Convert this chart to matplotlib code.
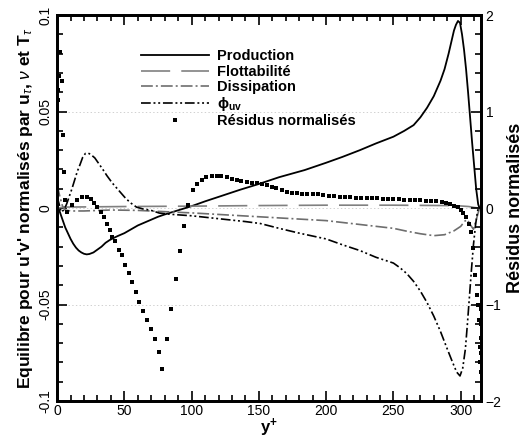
import numpy as np
import matplotlib
matplotlib.use('Agg')
import matplotlib.pyplot as plt
from matplotlib.ticker import MultipleLocator

plt.rcParams['font.family'] = ['Liberation Sans', 'DejaVu Sans']
plt.rcParams['mathtext.fontset'] = 'custom'
plt.rcParams['mathtext.rm'] = 'Liberation Sans'
plt.rcParams['mathtext.it'] = 'Liberation Sans:italic'
plt.rcParams['mathtext.bf'] = 'Liberation Sans:bold'
plt.rcParams['lines.scale_dashes'] = False

# Production
prod_x = [0, 1.5, 3, 4.5, 6, 8, 10, 12, 14, 16, 18, 20, 22, 24, 27, 30, 33, 36, 39,
          42, 45, 50, 55, 60, 65, 70, 75, 80, 86, 93, 100, 110, 120, 136, 150, 165,
          184, 200, 212, 225, 237, 250, 258, 265, 270, 275, 280, 285, 288, 291, 293,
          295, 296.5, 298, 299.5, 301, 302.5, 304, 305.5, 307, 308.5, 310, 311.5,
          313, 314]
prod_y = [0.001, -0.001, -0.004, -0.007, -0.010, -0.013, -0.016, -0.0185, -0.0205,
          -0.022, -0.023, -0.0237, -0.024, -0.0238, -0.023, -0.0215, -0.020, -0.018,
          -0.0166, -0.0155, -0.0145, -0.013, -0.011, -0.009, -0.0075, -0.006,
          -0.0045, -0.0033, -0.002, -0.0005, 0.001, 0.0035, 0.0058, 0.0095, 0.0125,
          0.016, 0.0197, 0.0235, 0.0265, 0.030, 0.0335, 0.037, 0.040, 0.043, 0.047,
          0.052, 0.058, 0.066, 0.072, 0.080, 0.086, 0.092, 0.095, 0.097, 0.096,
          0.090, 0.082, 0.072, 0.060, 0.047, 0.034, 0.022, 0.010, 0.002, 0.0]

# Flottabilite
flot_x = [0, 5, 20, 50, 100, 150, 200, 250, 290, 300, 306, 310, 313.5]
flot_y = [0.0, 0.0005, 0.0006, 0.0008, 0.001, 0.0013, 0.0015, 0.0015, 0.0013,
          0.0011, 0.0008, 0.0003, 0.0]

# Dissipation
diss_x = [0, 2, 4, 6, 10, 20, 40, 60, 84, 100, 150, 200, 250, 260, 270, 280, 288,
          295, 300, 303, 305, 307, 309.5, 312, 314]
diss_y = [0.012, 0.006, 0.001, -0.001, -0.0015, -0.0015, -0.001, -0.0012, -0.002,
          -0.0025, -0.0045, -0.0065, -0.0105, -0.012, -0.0133, -0.0143, -0.0138,
          -0.0118, -0.0095, -0.0068, -0.006, -0.0085, -0.011, -0.005, 0.0]

# phi_uv
phi_x = [0, 1.5, 3, 5, 7, 9, 11, 13, 15, 17, 19, 21, 23, 25, 28, 31, 34, 37, 41, 46,
         51, 55, 59, 64, 69, 76, 84, 100, 120, 140, 151, 165, 180, 200, 212, 225,
         237, 250, 255, 260, 265, 270, 275, 280, 285, 290, 294, 297, 299.5, 301.5,
         303.5, 305, 306.5, 308, 309.5, 311, 312, 313]
phi_y = [0.006, 0.002, -0.002, -0.001, 0.002, 0.006, 0.010, 0.0145, 0.019, 0.0225,
         0.0263, 0.0283, 0.0285, 0.0278, 0.026, 0.023, 0.020, 0.0168, 0.013, 0.009,
         0.005, 0.0025, 0.0005, -0.0005, -0.001, -0.0026, -0.0032, -0.004, -0.0055,
         -0.007, -0.008, -0.0105, -0.013, -0.016, -0.019, -0.022, -0.0255, -0.0285,
         -0.031, -0.034, -0.038, -0.043, -0.049, -0.056, -0.064, -0.073, -0.080,
         -0.085, -0.087, -0.083, -0.073, -0.060, -0.046, -0.032, -0.019, -0.009,
         -0.004, 0.0]

# Residus normalises (right axis)
res_x = [0.2, 0.5, 1, 1.5, 2.2, 3.5, 4, 5.2, 6, 7.7, 11, 15, 18.7, 22.4, 25, 27.6,
         30, 32.8, 35, 37, 39, 41, 43, 46, 48.5, 50.7, 53.7, 56, 58.8, 61, 64, 67,
         70, 73, 76, 78, 82, 85, 88, 91, 94, 97, 100.7, 103.7, 107.5, 111, 115,
         118.6, 122, 126, 130, 133.6, 137, 141, 145, 148.5, 152, 156, 160, 163,
         167, 171, 174.6, 178, 182, 186, 190, 194, 198, 202, 206, 210, 214, 218,
         222, 226, 230, 234, 238, 242, 246, 250, 254, 258, 262, 266, 270, 274,
         278, 282, 286, 289, 292, 295, 298, 300, 302, 304, 306, 307.5, 309, 310.4,
         312, 312.7, 313.5, 314, 314.5, 315, 315, 315, 315, 315]
res_y = [1.02, 1.12, 1.22, 1.37, 1.62, 1.32, 0.76, 0.37, 0.08, -0.04, 0.03, 0.08,
         0.11, 0.11, 0.09, 0.05, 0.01, -0.04, -0.09, -0.16, -0.23, -0.3, -0.34,
         -0.43, -0.49, -0.59, -0.67, -0.77, -0.87, -0.97, -1.07, -1.16, -1.25,
         -1.36, -1.49, -1.67, -1.36, -1.05, -0.74, -0.45, -0.19, 0.03, 0.19, 0.25,
         0.29, 0.32, 0.33, 0.33, 0.33, 0.32, 0.30, 0.29, 0.28, 0.27, 0.26, 0.26,
         0.25, 0.24, 0.22, 0.21, 0.19, 0.17, 0.16, 0.155, 0.15, 0.15, 0.15, 0.145,
         0.14, 0.13, 0.12, 0.115, 0.11, 0.11, 0.105, 0.105, 0.10, 0.10, 0.10,
         0.095, 0.095, 0.09, 0.09, 0.085, 0.085, 0.08, 0.08, 0.075, 0.075, 0.07,
         0.065, 0.055, 0.04, 0.025, 0.01, -0.02, -0.05, -0.09, -0.16, -0.25, -0.41,
         -0.69, -0.9, -1.0, -1.16, -1.44, -1.6, -1.05, -1.2, -1.35, -1.5, -1.7]

fig = plt.figure(figsize=(5.29, 4.40), dpi=100)
ax = fig.add_axes([0.108, 0.0886, 0.801, 0.877])
ax2 = ax.twinx()

ax.plot(prod_x, prod_y, color='black', lw=1.3, label='Production')
ax.plot(flot_x, flot_y, color='#808080', lw=1.2, dashes=(21, 8), label='Flottabilité')
ax.plot(diss_x, diss_y, color='#6e6e6e', lw=1.2, dashes=(8.5, 2.2, 1.4, 2.2),
        label='Dissipation')
ax.plot(phi_x, phi_y, color='black', lw=1.2, dashes=(7, 2, 1.4, 2, 1.4, 2),
        label='ϕ$_{\\mathbf{uv}}$')
ax2.plot(res_x, res_y, 's', color='black', ms=3.5, mew=0, label='Résidus normalisés')

ax.set_xlim(0, 315)
ax.set_ylim(-0.1, 0.1)
ax2.set_ylim(-2, 2)

ax.xaxis.set_major_locator(MultipleLocator(50))
ax.xaxis.set_minor_locator(MultipleLocator(10))
ax.yaxis.set_major_locator(MultipleLocator(0.05))
ax.yaxis.set_minor_locator(MultipleLocator(0.01))
ax2.yaxis.set_major_locator(MultipleLocator(1))
ax2.yaxis.set_minor_locator(MultipleLocator(0.2))
ax.set_yticks([-0.1, -0.05, 0, 0.05, 0.1])
ax.set_yticklabels(['-0.1', '-0.05', '0', '0.05', '0.1'], rotation=90, va='center')

ax.tick_params(which='both', direction='in', top=True, labelsize=10, width=1.2)
ax.tick_params(which='major', length=7)
ax.tick_params(which='minor', length=4)
ax2.tick_params(which='both', direction='in', labelsize=10, width=1.2)
ax2.tick_params(which='major', length=7)
ax2.tick_params(which='minor', length=4)
ax.tick_params(axis='x', pad=2)

for sp in ax.spines.values():
    sp.set_linewidth(2)
for sp in ax2.spines.values():
    sp.set_linewidth(2)

ax.grid(axis='y', which='major', linestyle=':', color='#d0d0d0', lw=0.7)

ax.set_xlabel(r'y$^{\mathbf{+}}$', fontsize=12, fontweight='bold', labelpad=-1)
ax.set_ylabel(r"Equilibre pour u'v' normalisés par u$_\tau$, $\nu$ et T$_\tau$",
              fontsize=12.5, fontweight='bold', labelpad=2)
ax2.set_ylabel('Résidus normalisés', fontsize=13, fontweight='bold', labelpad=4)

h1, l1 = ax.get_legend_handles_labels()
h2, l2 = ax2.get_legend_handles_labels()
leg = ax.legend(h1 + h2, l1 + l2, loc='upper left', bbox_to_anchor=(0.18, 0.93),
                frameon=False, handlelength=4.7, handletextpad=0.5, labelspacing=0.08,
                prop={'weight': 'bold', 'size': 10.5}, borderpad=0)

fig.savefig('out.png', dpi=100)
